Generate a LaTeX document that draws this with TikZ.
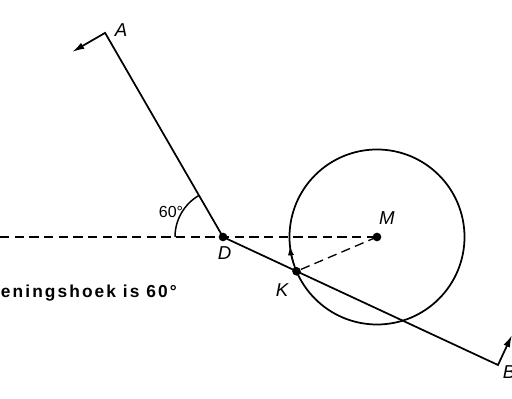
\documentclass[tikz,border=0pt]{standalone}
\usepackage{fontspec}
\setmainfont{Liberation Sans}
\usetikzlibrary{arrows.meta,calc}

\begin{document}
\begin{tikzpicture}[x=0.75pt,y=0.75pt,
    ln/.style={line width=1.3pt,line join=miter},
    dsh/.style={line width=1pt,dash pattern=on 7pt off 4pt},
    a/.style={{Latex[length=3.2mm,width=1.8mm]}-{Latex[length=3.2mm,width=1.8mm]}},
    dot/.style={circle,fill=black,inner sep=0pt,minimum size=6.5pt},
    lbl/.style={font=\fontsize{14}{16}\selectfont\itshape,inner sep=0pt}]
    \clip (0,0) rectangle (512,399);
    \coordinate (D) at (223,162);
    \coordinate (M) at (377,162);
    \coordinate (K) at (296.5,127.7);
    \coordinate (A) at (105.1,366.1);
    \coordinate (B) at (498,34);
    \coordinate (Atip) at ($(A)+(210:38)$);
    \coordinate (Btip) at ($(B)+(65:33)$);
    \coordinate (L) at (0,162);
    \draw[ln] (M) circle[radius=87.5];
    \draw[line width=1pt,-{Latex[length=2.4mm,width=1.6mm]}]
      ([shift={(198:87.5)}]M) arc[start angle=198,end angle=186,radius=87.5];
    \draw[dsh] (L) -- (M);
    \draw[dsh] (M) -- (K);
    \draw[ln,a] (Atip) -- (A) -- (D) -- (B) -- (Btip);
    \draw[line width=1.1pt] ([shift={(180:48)}]D) arc[start angle=180,end angle=120,radius=48];
    \node[dot] (d) at (D) {};
    \node[dot] (m) at (M) {};
    \node[dot] (k) at (K) {};
    \node[lbl] (la) at (121,369) {A};
    \node[lbl] (ld) at (224.5,146) {D};
    \node[lbl] (lm) at (387,181) {M};
    \node[lbl] (lk) at (282,109) {K};
    \node[lbl] (lb) at (509,27) {B};
    \node[font=\fontsize{12}{14}\selectfont,inner sep=0pt] (ang) at (171,187) {60\textdegree};
    \node[font=\fontsize{13}{15}\selectfont\bfseries\addfontfeature{LetterSpace=12},
      inner sep=0pt,anchor=base east] (cap) at (177,101) {Openingshoek is 60°};
\end{tikzpicture}
\end{document}
